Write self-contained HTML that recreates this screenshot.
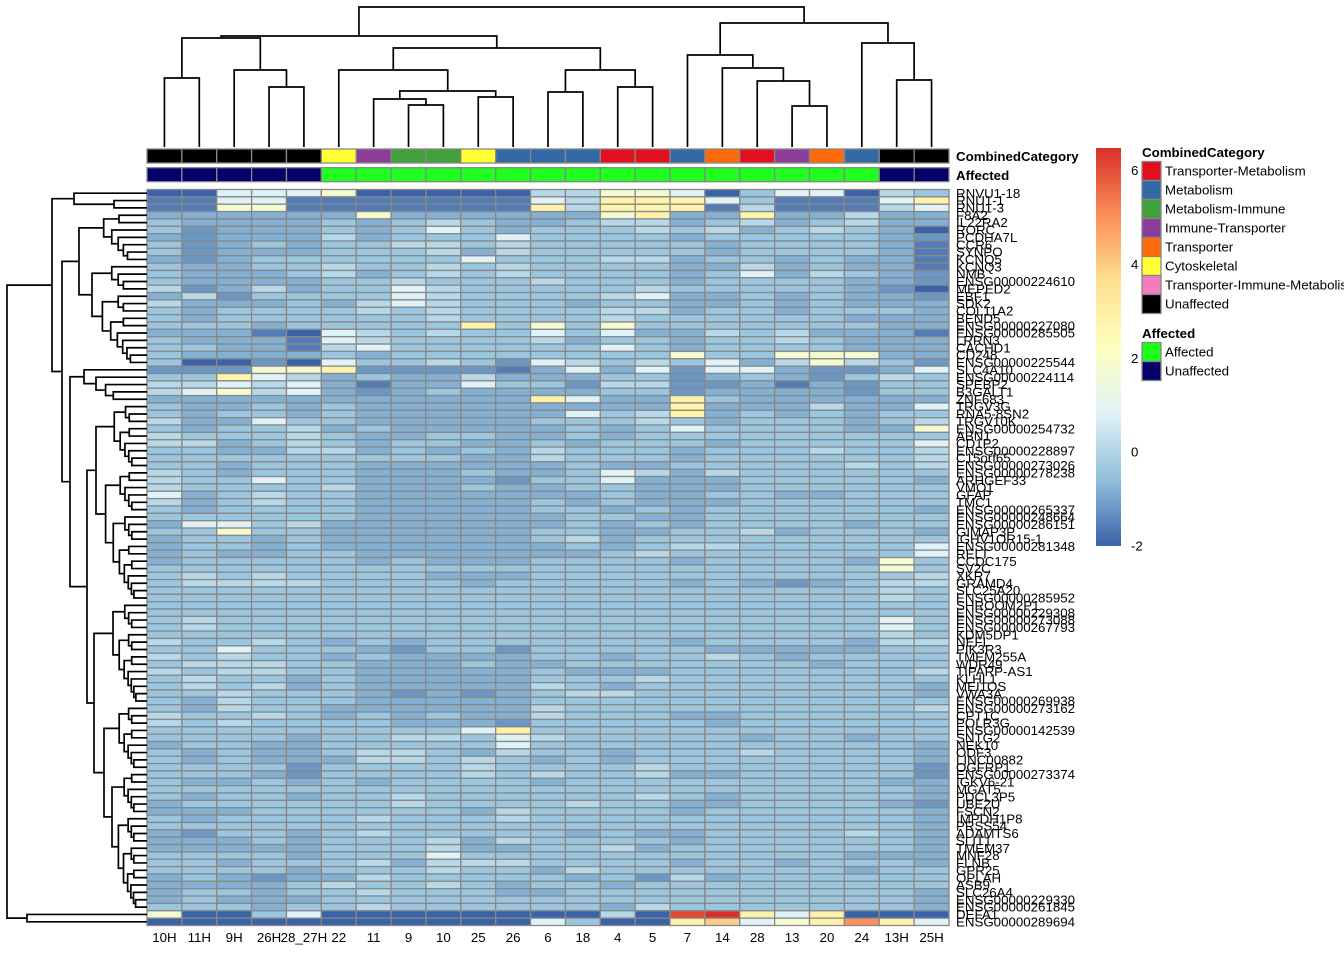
<!DOCTYPE html>
<html><head><meta charset="utf-8">
<style>
html,body{margin:0;padding:0;background:#fff;}
svg{display:block;font-family:"Liberation Sans",Arial,sans-serif;}
</style></head>
<body>
<svg id="chart" width="1344" height="960" viewBox="0 0 1344 960" xmlns="http://www.w3.org/2000/svg"></svg>
<script>
// ---------- data ----------
const colLabels = ["10H","11H","9H","26H","28_27H","22","11","9","10","25","26","6","18","4","5","7","14","28","13","20","24","13H","25H"];
const colCategory = ["Unaffected","Unaffected","Unaffected","Unaffected","Unaffected","Cytoskeletal","Immune-Transporter","Metabolism-Immune","Metabolism-Immune","Cytoskeletal","Metabolism","Metabolism","Metabolism","Transporter-Metabolism","Transporter-Metabolism","Metabolism","Transporter","Transporter-Metabolism","Immune-Transporter","Transporter","Metabolism","Unaffected","Unaffected"];
const colAffected = ["Unaffected","Unaffected","Unaffected","Unaffected","Unaffected","Affected","Affected","Affected","Affected","Affected","Affected","Affected","Affected","Affected","Affected","Affected","Affected","Affected","Affected","Affected","Affected","Unaffected","Unaffected"];
const categoryNames = ["Transporter-Metabolism","Metabolism","Metabolism-Immune","Immune-Transporter","Transporter","Cytoskeletal","Transporter-Immune-Metabolism","Unaffected"];
const categoryColors = ["#E0101E","#3469A8","#40A03C","#8B3D97","#FF6A0A","#FFFF33","#F37CBC","#000000"];
const affectedNames = ["Affected","Unaffected"];
const affectedColors = ["#1EFF1E","#05006B"];
const rowLabels = ["RNVU1-18","RNU1-1","RNU1-3","F8A2","IL22RA2","RORC","PCDHA7L","CCR6","SYNPO","KCNQ5","KCNQ3","NMB","ENSG00000224610","MEPED2","EBF1","SDK2","COL11A2","BEND5","ENSG00000227080","ENSG00000285505","LRRN3","CACHD1","CD248","ENSG00000225544","SLC4A10","ENSG00000224114","SPEBP2","B3GALT1","ZNF683","TRGV3G","RNA5-8SN2","TRGV10K","ENSG00000254732","ABN1","CD1P2","ENSG00000228897","C15orf65","ENSG00000273026","ENSG00000278238","ARHGEF33","VMO1","GFAP","TMC1","ENSG00000265337","ENSG00000248664","ENSG00000286151","GIMAP3P","IGHV1OR15-1","ENSG00000281348","RELT","CCDC175","SV2C","XKR7","GRAMD4","SLC25A20","ENSG00000285952","SHROOM2P1","ENSG00000229308","ENSG00000273088","ENSG00000267793","KDM5DP1","NEFL","PIK3R3","TMEM255A","WDR49","TIPARP-AS1","KLHL1","MEI1OS","VWA3A","ENSG00000269938","ENSG00000273162","CPT1C","POLR3G","ENSG00000142539","SNTG2","NEK10","ODF3","LINC00882","OGFRP1","ENSG00000273374","IGKV6-21","MGAT5","PDCL3P5","UBE2U","FSCN2","IMPDH1P8","PRSS54","ADAMTS6","SLIT1","TMEM37","MNF28","FLNB","GPR25","OPLAH","ASB9","SLC26A4","ENSG00000229330","ENSG00000261845","DEFA1","ENSG00000289694"];
// value of each level code used in heatLevels
const levelValues = [-2,-1.6,-1.2,-0.8,-0.4,0.1,0.8,1.8,2.8,4.0,5.0,6.1,6.45];
const heatLevels = [
[0,0,6,6,6,7,0,0,0,0,0,5,5,7,7,6,0,4,6,6,0,5,4],
[1,1,6,6,1,1,1,1,1,1,1,6,5,8,8,8,6,4,1,1,1,6,8],
[1,1,7,7,1,1,1,1,1,1,1,8,5,8,8,8,1,5,1,1,1,5,6],
[3,3,3,3,3,3,7,3,3,3,3,3,3,7,8,3,3,8,3,3,5,3,3],
[4,3,3,3,3,4,3,4,5,4,3,3,4,5,5,3,4,5,3,4,5,3,3],
[4,2,3,3,3,4,3,4,6,4,3,4,4,4,5,4,5,3,4,5,4,3,0],
[3,2,3,3,3,5,3,4,4,4,6,4,4,4,4,3,4,4,4,4,4,3,2],
[4,2,3,4,3,4,4,5,5,4,5,4,4,4,4,4,3,4,4,4,4,3,1],
[4,2,3,3,3,4,4,4,5,3,5,4,4,4,4,4,3,4,4,4,4,3,1],
[3,2,3,4,4,4,4,4,4,6,4,4,4,5,5,3,4,4,3,4,3,3,1],
[4,3,3,4,4,5,4,4,5,4,5,4,4,4,4,3,3,5,3,4,3,3,1],
[4,3,3,3,4,5,3,4,5,4,5,4,4,4,4,3,4,6,3,5,4,3,2],
[4,3,3,3,3,4,4,5,4,4,4,5,4,4,4,3,4,4,4,4,3,3,2],
[5,2,3,5,3,4,4,6,5,4,4,4,4,4,5,4,4,4,4,4,3,2,0],
[3,5,2,4,4,4,4,6,5,4,4,4,4,5,6,3,3,4,3,4,3,3,2],
[5,3,3,3,4,3,5,6,5,4,4,4,3,4,4,3,3,4,3,4,3,3,3],
[4,3,4,4,4,4,5,4,5,4,4,4,4,5,5,3,4,4,3,4,4,4,3],
[4,3,4,4,4,4,4,4,5,4,4,4,4,5,4,4,4,4,4,4,3,3,3],
[4,4,4,3,4,4,4,4,4,8,4,7,4,7,4,4,4,4,4,4,4,3,3],
[3,3,3,1,0,6,5,4,5,4,4,6,4,6,3,3,5,4,5,3,3,3,1],
[4,3,3,3,1,6,5,4,4,4,4,5,3,4,4,3,4,4,5,4,3,3,3],
[4,4,3,3,1,5,6,4,4,4,4,4,4,6,4,3,4,4,4,4,3,3,3],
[4,3,3,3,3,4,3,4,4,4,4,4,4,4,4,7,4,4,7,7,7,3,3],
[4,0,0,2,0,6,4,4,5,4,2,6,5,4,5,4,6,3,5,7,5,4,2],
[2,2,2,7,7,8,2,2,2,2,1,3,6,3,6,2,6,6,3,2,2,3,6],
[4,4,8,6,5,3,4,3,3,5,3,3,3,4,4,2,3,4,3,2,4,5,4],
[5,5,6,5,6,3,1,3,3,6,4,4,2,5,5,2,2,3,1,3,2,4,4],
[5,6,7,5,6,3,2,3,4,3,3,3,3,4,4,2,3,3,3,3,2,4,4],
[3,3,3,3,3,3,3,3,3,3,3,8,6,3,3,8,4,3,3,3,3,3,3],
[4,3,3,4,3,4,3,3,3,3,3,3,3,3,3,8,3,3,3,5,3,3,6],
[4,3,4,4,3,4,3,3,3,3,3,3,6,4,5,8,3,4,3,4,3,4,4],
[5,3,3,6,4,4,3,3,3,3,3,4,4,4,5,4,3,4,4,4,3,4,5],
[4,3,4,4,5,3,4,3,3,3,3,3,4,3,4,6,4,4,4,4,3,3,7],
[5,4,4,4,5,4,3,3,4,4,3,3,4,3,4,4,4,4,4,4,4,4,4],
[5,5,3,4,5,4,3,4,4,3,3,4,3,4,4,4,3,4,4,4,4,4,6],
[4,4,3,3,5,5,3,4,3,4,3,5,4,4,4,3,4,4,4,5,4,4,5],
[4,4,4,4,4,4,4,4,4,3,3,5,4,4,4,3,4,4,4,4,4,4,5],
[4,4,3,4,4,4,3,3,3,3,3,3,4,3,3,4,4,4,4,4,5,4,5],
[5,4,3,4,4,4,3,3,3,4,3,3,4,6,5,3,5,4,4,4,4,4,4],
[5,4,4,6,4,4,3,3,3,3,2,4,4,6,3,3,3,4,4,4,4,4,3],
[5,4,4,4,4,5,3,3,3,4,3,3,4,4,3,3,3,4,4,4,4,4,4],
[6,3,4,5,4,4,3,3,3,3,3,3,3,4,3,3,4,4,3,3,4,4,4],
[5,3,4,5,4,4,3,3,3,3,3,4,3,4,3,3,3,4,4,4,4,4,4],
[4,3,4,4,4,4,3,3,3,3,3,4,4,3,4,3,4,4,4,4,4,4,3],
[4,4,4,4,4,4,3,3,3,3,3,3,4,4,3,3,4,4,4,4,4,4,4],
[3,6,6,4,5,3,3,3,3,3,3,3,4,3,4,3,4,4,4,4,3,4,4],
[4,4,7,4,4,3,3,3,3,3,3,4,4,3,3,4,4,5,3,4,4,4,3],
[3,4,4,3,4,3,3,3,3,3,3,4,5,3,4,4,4,4,4,4,4,4,4],
[3,4,4,3,4,3,3,3,3,3,3,3,4,3,4,5,5,4,4,4,4,4,6],
[3,4,3,3,4,4,3,3,3,3,3,3,3,4,5,4,4,4,4,4,4,4,6],
[3,4,4,4,4,4,3,4,3,3,3,4,4,4,4,3,4,4,4,4,3,7,4],
[4,4,4,4,4,4,4,4,4,4,4,4,4,4,4,4,4,4,4,4,4,7,4],
[4,5,4,5,4,4,4,4,3,3,3,4,4,4,4,4,4,4,4,4,4,4,5],
[4,5,5,5,5,4,4,4,4,3,4,4,4,4,4,3,4,3,2,3,4,5,5],
[4,4,4,4,4,4,4,4,4,4,4,4,4,4,4,4,4,4,4,4,4,5,4],
[4,4,4,4,4,4,4,4,4,4,4,4,4,4,4,4,4,4,4,4,4,5,4],
[4,4,4,4,4,4,4,4,4,4,4,4,4,4,4,4,4,4,4,4,4,4,4],
[4,4,4,4,4,4,4,4,4,4,4,4,4,4,4,4,4,4,4,4,4,4,4],
[4,5,4,4,4,4,4,4,4,4,4,4,4,4,4,4,4,4,4,4,4,6,4],
[4,5,4,4,4,4,4,4,4,4,4,4,4,4,4,4,4,4,4,4,4,6,4],
[4,4,4,4,4,4,4,4,4,4,4,4,4,4,4,4,4,4,4,4,4,5,4],
[5,4,4,5,4,3,4,3,4,4,4,4,4,4,4,3,4,4,4,4,3,5,5],
[4,4,6,4,4,4,3,2,4,4,2,4,4,4,4,4,3,3,3,3,3,4,4],
[5,4,5,4,4,3,4,3,3,3,3,4,4,3,4,4,5,4,3,4,4,4,4],
[4,5,5,5,4,4,3,3,3,4,3,3,4,4,4,4,4,4,4,3,4,4,4],
[5,4,5,5,4,4,3,3,3,3,3,4,3,3,3,4,4,4,4,4,4,4,5],
[4,5,4,4,3,4,3,3,3,3,3,4,4,4,5,4,4,4,4,4,4,4,4],
[4,5,4,5,3,4,3,3,3,3,3,5,4,3,4,4,4,4,4,4,4,4,3],
[4,4,5,4,4,4,3,2,3,2,3,4,5,5,4,4,4,4,4,4,4,4,3],
[4,3,5,4,4,4,3,3,3,3,3,4,4,4,4,4,4,4,4,4,4,4,4],
[4,3,5,4,4,3,3,3,3,3,3,5,4,4,4,4,4,4,4,4,4,4,5],
[5,4,4,5,4,3,4,3,4,3,3,5,4,4,4,3,3,4,4,4,4,4,4],
[5,4,5,4,4,4,4,3,3,3,2,4,4,4,4,4,3,4,4,4,4,4,4],
[4,4,4,4,4,4,4,4,4,6,8,4,4,4,4,4,4,4,4,4,4,4,4],
[4,4,4,4,3,4,4,5,5,4,6,5,4,4,4,4,4,3,4,4,3,4,4],
[3,4,4,3,3,4,4,4,4,4,6,4,4,4,4,4,4,4,4,4,4,4,3],
[4,3,4,3,3,4,5,5,4,3,5,4,4,3,4,4,4,5,4,4,4,4,3],
[4,3,4,3,3,3,5,5,4,5,4,3,4,3,4,4,4,4,4,4,4,4,3],
[4,4,4,4,2,4,4,4,4,5,4,4,4,4,5,4,4,4,4,4,4,4,2],
[4,4,4,3,2,4,4,4,4,5,4,5,4,4,5,3,3,4,4,4,4,4,2],
[4,3,3,4,3,4,3,4,4,4,4,3,4,4,4,4,4,4,4,4,4,3,3],
[4,4,4,4,4,4,4,4,4,4,4,4,4,4,4,4,4,4,4,4,4,4,3],
[4,3,4,4,3,4,4,5,4,4,4,4,4,4,5,4,3,4,4,4,4,4,3],
[3,4,4,4,4,4,4,5,4,4,4,4,5,4,4,3,3,4,4,4,4,3,2],
[3,3,3,4,4,4,4,4,4,3,5,4,4,4,4,3,4,4,4,4,4,4,3],
[4,3,4,4,4,4,5,4,4,4,5,4,4,4,4,4,4,4,4,4,4,4,3],
[4,4,4,4,4,4,4,4,4,4,4,4,4,4,4,4,4,4,4,4,4,4,3],
[3,2,4,4,3,4,5,4,4,4,4,4,3,4,3,3,4,4,4,4,5,4,3],
[3,3,3,4,3,4,4,4,5,3,5,4,4,4,4,3,4,4,4,4,4,4,3],
[3,3,3,3,3,4,4,4,5,3,3,4,4,5,3,4,4,4,4,4,4,4,3],
[4,4,4,4,3,4,4,4,6,4,4,4,4,4,4,4,4,4,4,4,3,3,3],
[4,4,3,4,4,4,5,3,5,5,5,4,4,4,4,3,4,4,3,4,4,4,3],
[4,4,4,4,3,4,4,4,5,4,4,3,5,4,4,4,4,4,4,4,3,4,4],
[3,4,3,2,3,3,5,4,4,4,4,4,3,4,2,5,3,4,4,4,4,4,4],
[3,3,3,3,4,5,4,4,5,4,3,4,4,3,4,4,4,4,4,4,4,4,4],
[3,4,4,3,4,4,5,4,4,4,3,3,4,4,4,4,4,4,4,4,4,4,3],
[3,4,3,3,3,4,4,4,4,4,4,4,4,4,4,4,4,4,4,4,4,4,3],
[4,4,4,3,4,4,5,4,4,4,4,4,4,3,5,4,4,4,4,4,4,4,3],
[7,0,0,4,6,0,0,0,0,0,0,0,0,5,0,11,12,8,6,8,0,0,0],
[0,0,0,0,0,0,0,0,0,0,0,6,4,0,0,8,9,6,7,8,10,8,6]
];
// column dendrogram merges: [left, right, height]; numbers = leaves, "mK" = merge K
const colMerges = [
[0,1,69],[3,4,60],[2,"m1",77],["m0","m2",109],[7,8,42],[6,"m4",48],[9,10,50],["m5","m6",56],[5,"m7",77],[11,12,55],[13,14,60],["m9","m10",77],["m8","m11",99],["m3","m12",111],[18,19,41],[17,"m14",66],[16,"m15",79],[15,"m16",92],[21,22,67],[20,"m18",104],["m17","m19",124],["m13","m20",140]
];
const legendTicks = [6,4,2,0,-2];

// ---------- layout ----------
const FS = 13.3;
const svg = document.getElementById('chart');
const NS = 'http://www.w3.org/2000/svg';
const HX0 = 147, HX1 = 949, HY0 = 189.5, HY1 = 925.5;
const nCol = colLabels.length, nRow = heatLevels.length;
const cw = (HX1 - HX0) / nCol, rh = (HY1 - HY0) / nRow;
const xCol = i => HX0 + cw * i;
const yRow = r => HY0 + rh * r;
const palette = ["#3A62A8","#91BFDB","#E0F3F8","#FFFFBF","#FEE090","#FC8D59","#D73027"];
const vMin = -2.0, vMax = 6.48;
function hex2rgb(h){return [1,3,5].map(i=>parseInt(h.substr(i,2),16));}
function colorFor(v){
  let t = (v - vMin) / (vMax - vMin); t = Math.max(0, Math.min(1, t));
  const p = t * (palette.length - 1); const i = Math.min(palette.length - 2, Math.floor(p)); const f = p - i;
  const a = hex2rgb(palette[i]), b = hex2rgb(palette[i+1]);
  return 'rgb(' + a.map((c,k)=>Math.round(c + (b[k]-c)*f)).join(',') + ')';
}
function mk(tag, attrs, parent){
  const e = document.createElementNS(NS, tag);
  for (const k in attrs) e.setAttribute(k, attrs[k]);
  (parent || svg).appendChild(e); return e;
}

// heatmap cells
const gHeat = mk('g', {});


heatLevels.forEach((row, r) => {
  for (let c = 0; c < nCol; c++) {
    const lv = row[c] === undefined ? 4 : row[c];
    const rect = mk('rect', {x: xCol(c), y: yRow(r), width: cw, height: rh, fill: colorFor(levelValues[lv]), stroke: '#888', 'stroke-width': 1.3}, gHeat);
    
    
  }
});

// row labels
const gRL = mk('g', {'font-size': FS, fill: '#000'});


rowLabels.forEach((lab, r) => {
  const t = mk('text', {x: 956, y: yRow(r) + rh/2 + 4.6}, gRL);
  t.textContent = lab;
  
  
});

// column labels
const gCL = mk('g', {'font-size': FS, fill: '#000', 'text-anchor': 'middle'});


colLabels.forEach((lab, c) => {
  const t = mk('text', {x: xCol(c) + cw/2, y: 942}, gCL);
  t.textContent = lab;
  
  
});

// annotation bars
const gAnn = mk('g', {});


for (let c = 0; c < nCol; c++) {
  const r1 = mk('rect', {x: xCol(c), y: 149, width: cw, height: 14, fill: categoryColors[categoryNames.indexOf(colCategory[c])], stroke: '#888', 'stroke-width': 1.3}, gAnn);
  
  
  const r2 = mk('rect', {x: xCol(c), y: 167.7, width: cw, height: 14, fill: affectedColors[affectedNames.indexOf(colAffected[c])], stroke: '#888', 'stroke-width': 1.3}, gAnn);
  
  
}
const at1 = mk('text', {x: 956, y: 161, 'font-size': FS, 'font-weight': 'bold'}); at1.textContent = 'CombinedCategory';


const at2 = mk('text', {x: 956, y: 180, 'font-size': FS, 'font-weight': 'bold'}); at2.textContent = 'Affected';



// column dendrogram
const gCD = mk('g', {stroke: '#000', 'stroke-width': 1.7, fill: 'none'});


const CD_BASE = 147;
const colNodePos = [];
function colPos(n){ if (typeof n === 'number') return {x: xCol(n) + cw/2, y: CD_BASE}; return colNodePos[+n.slice(1)]; }
colMerges.forEach((m, k) => {
  const a = colPos(m[0]), b = colPos(m[1]); const y = CD_BASE - m[2];
  const p = mk('path', {d: `M${a.x},${a.y}V${y}H${b.x}V${b.y}`}, gCD);
  
  
  colNodePos[k] = {x: (a.x + b.x)/2, y: y};
});

// row dendrogram
const RD_BASE = 144;
function leaf(i){ return {leaf: i}; }
function node(h, l, r){ return {h: h, l: l, r: r}; }
function ladder(lo, hi, h){
  if (lo === hi) return leaf(lo);
  const n = hi - lo + 1;
  const cut = lo + Math.max(0, Math.floor(n * 0.35) - 1);
  return node(h, ladder(lo, cut, h * 0.62), ladder(cut + 1, hi, h * 0.8));
}
const rowTree = node(137,
  node(92,
    node(70, leaf(0), node(30, leaf(1), leaf(2))),
    node(82,
      ladder(3, 23, 65),
      node(74,
        ladder(24, 28, 60),
        node(57, ladder(29, 55, 48), ladder(56, 97, 50))))),
  node(117, leaf(98), leaf(99)));
const gRD = mk('g', {stroke: '#000', 'stroke-width': 1.7, fill: 'none'});


function drawRow(n){
  if (n.leaf !== undefined) return {x: RD_BASE + 3, y: yRow(n.leaf) + rh/2};
  const a = drawRow(n.l), b = drawRow(n.r); const x = RD_BASE - n.h;
  const p = mk('path', {d: `M${a.x},${a.y}H${x}V${b.y}H${b.x}`}, gRD);
  
  
  return {x: x, y: (a.y + b.y)/2};
}
drawRow(rowTree);

// colour bar legend
const LY0 = 148, LY1 = 546;
const yVal = v => LY1 - (v - vMin) / (vMax - vMin) * (LY1 - LY0);
const gLeg = mk('g', {});


const defs = mk('defs', {});
const grad = mk('linearGradient', {id: 'cbar', x1: 0, y1: 1, x2: 0, y2: 0}, defs);
palette.forEach((c, i) => mk('stop', {offset: i/(palette.length-1), 'stop-color': c}, grad));
const cbar = mk('rect', {x: 1096, y: LY0, width: 25, height: LY1 - LY0, fill: 'url(#cbar)'}, gLeg);


legendTicks.forEach(v => {
  const t = mk('text', {x: 1131, y: yVal(v) + 4.5, 'font-size': FS}, gLeg);
  t.textContent = v;
  
  
});

// categorical legends
const gCat = mk('g', {'font-size': FS});


const ct = mk('text', {x: 1142, y: 157, 'font-weight': 'bold'}, gCat); ct.textContent = 'CombinedCategory';


categoryNames.forEach((nm, i) => {
  const y = 161.5 + i * 19;
  const r = mk('rect', {x: 1142, y: y, width: 19, height: 19, fill: categoryColors[i], stroke: '#888', 'stroke-width': 1.3}, gCat);
  
  
  const t = mk('text', {x: 1165, y: y + 14}, gCat); t.textContent = nm;
  
  
});
const gAff = mk('g', {'font-size': FS});


const aft = mk('text', {x: 1142, y: 338, 'font-weight': 'bold'}, gAff); aft.textContent = 'Affected';


affectedNames.forEach((nm, i) => {
  const y = 342.5 + i * 19;
  const r = mk('rect', {x: 1142, y: y, width: 19, height: 19, fill: affectedColors[i], stroke: '#888', 'stroke-width': 1.3}, gAff);
  
  
  const t = mk('text', {x: 1165, y: y + 14}, gAff); t.textContent = nm;
  
  
});
</script>
</body></html>
